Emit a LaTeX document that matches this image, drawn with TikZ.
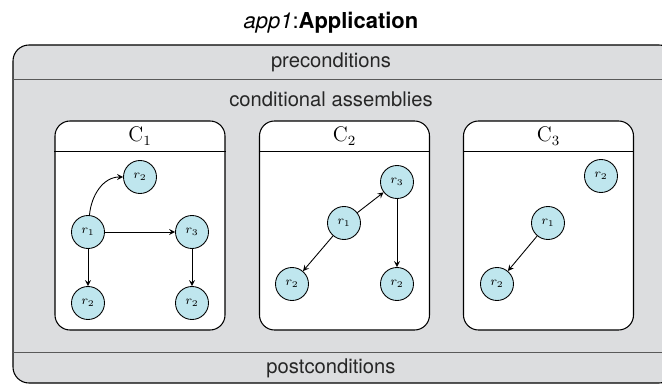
\documentclass[tikz,border=0pt]{standalone}
\usepackage{fontspec}
\setsansfont{TeX Gyre Heros}
\usetikzlibrary{arrows}
\definecolor{appgray}{HTML}{DCDDDF}
\definecolor{rescyan}{HTML}{BFE6EE}
\tikzstyle{application} = [rectangle, rounded corners=0.32cm, minimum width=13.24cm, minimum height=6.76cm, draw=black, fill=appgray, line width=0.6pt]
\tikzstyle{assembly} = [rectangle, rounded corners=0.3cm, minimum width=3.4cm, minimum height=4.18cm, draw=black, fill=white, line width=0.6pt]
\tikzstyle{resource} = [circle, minimum size=0.66cm, inner sep=0pt, draw=black, line width=0.5pt, fill=rescyan, font=\scriptsize]
\tikzstyle{section} = [font=\sffamily\fontsize{11.5}{13}\selectfont, text=black!85]
\tikzstyle{header} = [font=\fontsize{12}{14}\selectfont]
\tikzstyle{divider} = [line width=0.8pt, draw=black!65]
\tikzstyle{edge} = [->, >=stealth, line width=0.5pt]

\begin{document}
\begin{tikzpicture}

\useasboundingbox (0,0) rectangle (13.24,7.7);

\node (title) at (6.62,7.24) {\sffamily\fontsize{12.5}{14}\selectfont\textit{app1}:\textbf{Application}};

% outer application box
\node (app) [application] at (6.88,3.42) {};
\draw [divider] ([yshift=-0.7cm]app.north west) -- ([yshift=-0.7cm]app.north east);
\draw [divider] ([yshift=0.62cm]app.south west) -- ([yshift=0.62cm]app.south east);
\node (pre) [section] at (6.62,6.45) {preconditions};
\node (cond) [section] at (6.62,5.72) {conditional assemblies};
\node (post) [section] at (6.62,0.33) {postconditions};

% conditional assemblies
\node (box1) [assembly] at (2.8,3.19) {};
\node (box2) [assembly] at (6.89,3.19) {};
\node (box3) [assembly] at (10.97,3.19) {};
\foreach \b in {box1,box2,box3}
  \draw [line width=0.6pt] ([yshift=-0.62cm]\b.north west) -- ([yshift=-0.62cm]\b.north east);
\node (h1) [header] at (2.8,4.98) {$\mathrm{C}_1$};
\node (h2) [header] at (6.89,4.98) {$\mathrm{C}_2$};
\node (h3) [header] at (10.97,4.98) {$\mathrm{C}_3$};

% C1
\node (a1) [resource] at (1.76,3.06) {$r_1$};
\node (a2) [resource] at (2.8,4.16) {$r_2$};
\node (a3) [resource] at (3.84,3.06) {$r_3$};
\node (a4) [resource] at (1.76,1.64) {$r_2$};
\node (a5) [resource] at (3.84,1.64) {$r_2$};

\draw [edge] (a1) to[out=85, in=180] (a2);
\draw [edge] (a1) -- (a3);
\draw [edge] (a1) -- (a4);
\draw [edge] (a3) -- (a5);

% C2
\node (b1) [resource] at (6.88,3.24) {$r_1$};
\node (b2) [resource] at (7.94,4.06) {$r_3$};
\node (b3) [resource] at (5.84,2.02) {$r_2$};
\node (b4) [resource] at (7.94,2.02) {$r_2$};

\draw [edge] (b1) -- (b2);
\draw [edge] (b1) -- (b3);
\draw [edge] (b2) -- (b4);

% C3
\node (c1) [resource] at (10.96,3.24) {$r_1$};
\node (c2) [resource] at (12.02,4.18) {$r_2$};
\node (c3) [resource] at (9.94,2.02) {$r_2$};

\draw [edge] (c1) -- (c3);

\end{tikzpicture}
\end{document}
